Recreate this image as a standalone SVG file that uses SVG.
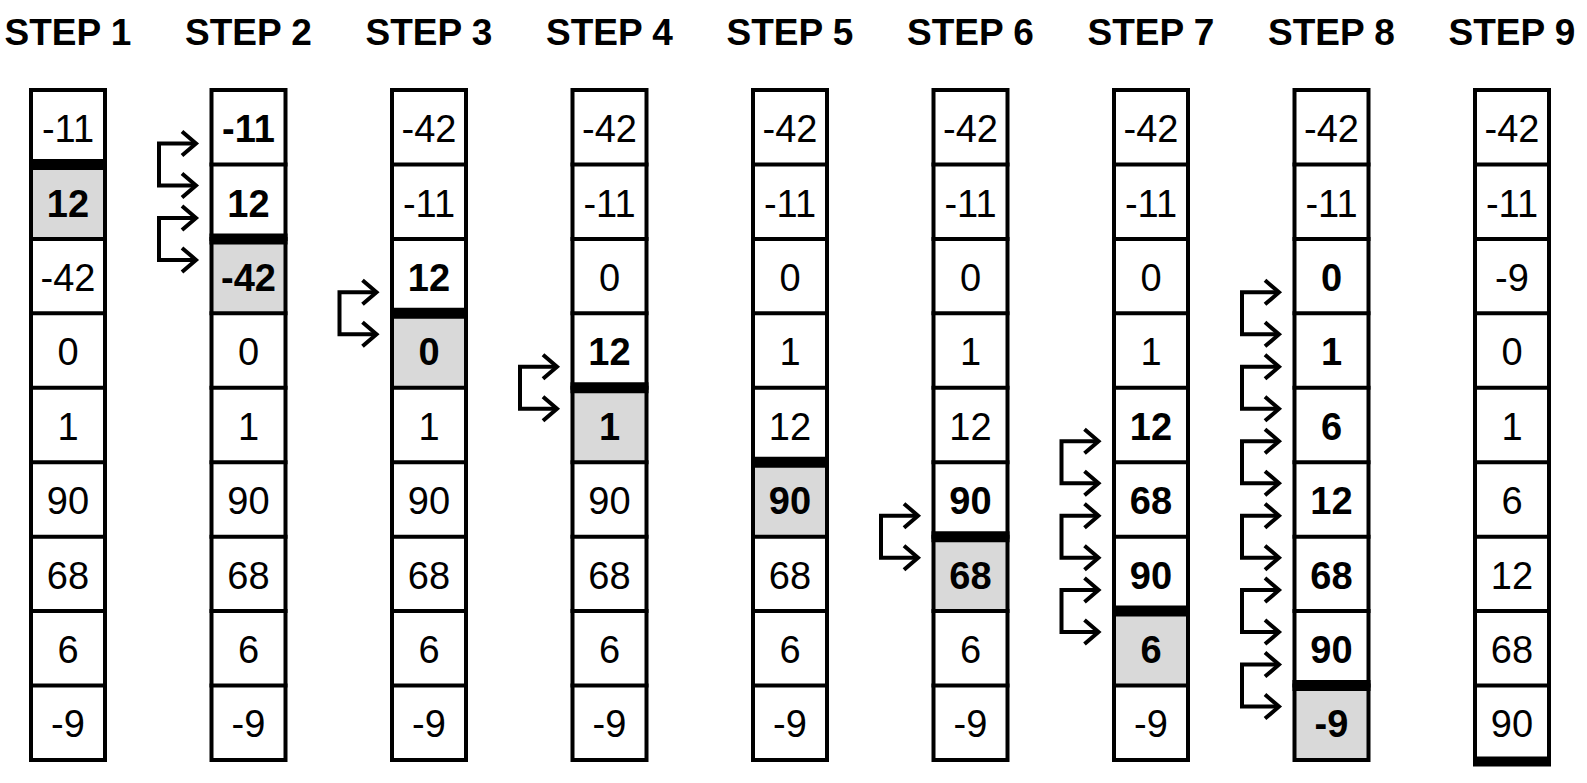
<svg xmlns="http://www.w3.org/2000/svg" width="1587" height="783" viewBox="0 0 1587 783">
<style>
.t{font-family:"Liberation Sans",Arial,sans-serif;font-weight:bold;font-size:37px;text-anchor:middle;fill:#000}
.n{font-family:"Liberation Sans",Arial,sans-serif;font-size:38px;text-anchor:middle;fill:#000}
.b{font-weight:bold}
.box{fill:none;stroke:#000;stroke-width:4}
.g{fill:#d9d9d9;stroke:none}
.ln{stroke:#000;stroke-width:4}
.bar{stroke:#000;stroke-width:11}
.ar{fill:none;stroke:#000;stroke-width:4;marker-start:url(#ah);marker-end:url(#ah)}
</style>
<defs>
<marker id="ah" markerUnits="userSpaceOnUse" orient="auto-start-reverse" markerWidth="40" markerHeight="40" viewBox="-20 -20 40 40" refX="0" refY="0" overflow="visible">
<path d="M-14,-12 L0,0 L-14,12" fill="none" stroke="#000" stroke-width="4"/>
</marker>
<g id="grid">
<line class="ln" x1="0" y1="164.4" x2="78" y2="164.4"/>
<line class="ln" x1="0" y1="238.9" x2="78" y2="238.9"/>
<line class="ln" x1="0" y1="313.3" x2="78" y2="313.3"/>
<line class="ln" x1="0" y1="387.8" x2="78" y2="387.8"/>
<line class="ln" x1="0" y1="462.2" x2="78" y2="462.2"/>
<line class="ln" x1="0" y1="536.7" x2="78" y2="536.7"/>
<line class="ln" x1="0" y1="611.1" x2="78" y2="611.1"/>
<line class="ln" x1="0" y1="685.6" x2="78" y2="685.6"/>
<rect class="box" x="2" y="90" width="74" height="670"/>
</g>
</defs>

<g id="step1" transform="translate(29,0)">
<text class="t" x="39" y="45">STEP 1</text>
<rect class="g" x="2" y="164.4" width="74" height="74.5"/>
<use href="#grid"/>
<line class="bar" x1="0" y1="164.4" x2="78" y2="164.4"/>
<text class="n" x="39" y="142.2">-11</text>
<text class="n b" x="39" y="216.6">12</text>
<text class="n" x="39" y="291">-42</text>
<text class="n" x="39" y="365.4">0</text>
<text class="n" x="39" y="439.8">1</text>
<text class="n" x="39" y="514.2">90</text>
<text class="n" x="39" y="588.6">68</text>
<text class="n" x="39" y="663">6</text>
<text class="n" x="39" y="737.4">-9</text>
</g>

<g id="step2" transform="translate(209.5,0)">
<text class="t" x="39" y="45">STEP 2</text>
<rect class="g" x="2" y="238.9" width="74" height="74.4"/>
<use href="#grid"/>
<line class="bar" x1="0" y1="238.9" x2="78" y2="238.9"/>
<text class="n b" x="39" y="142.2">-11</text>
<text class="n b" x="39" y="216.6">12</text>
<text class="n b" x="39" y="291">-42</text>
<text class="n" x="39" y="365.4">0</text>
<text class="n" x="39" y="439.8">1</text>
<text class="n" x="39" y="514.2">90</text>
<text class="n" x="39" y="588.6">68</text>
<text class="n" x="39" y="663">6</text>
<text class="n" x="39" y="737.4">-9</text>
</g>

<g id="step3" transform="translate(390,0)">
<text class="t" x="39" y="45">STEP 3</text>
<rect class="g" x="2" y="313.3" width="74" height="74.5"/>
<use href="#grid"/>
<line class="bar" x1="0" y1="313.3" x2="78" y2="313.3"/>
<text class="n" x="39" y="142.2">-42</text>
<text class="n" x="39" y="216.6">-11</text>
<text class="n b" x="39" y="291">12</text>
<text class="n b" x="39" y="365.4">0</text>
<text class="n" x="39" y="439.8">1</text>
<text class="n" x="39" y="514.2">90</text>
<text class="n" x="39" y="588.6">68</text>
<text class="n" x="39" y="663">6</text>
<text class="n" x="39" y="737.4">-9</text>
</g>

<g id="step4" transform="translate(570.5,0)">
<text class="t" x="39" y="45">STEP 4</text>
<rect class="g" x="2" y="387.8" width="74" height="74.4"/>
<use href="#grid"/>
<line class="bar" x1="0" y1="387.8" x2="78" y2="387.8"/>
<text class="n" x="39" y="142.2">-42</text>
<text class="n" x="39" y="216.6">-11</text>
<text class="n" x="39" y="291">0</text>
<text class="n b" x="39" y="365.4">12</text>
<text class="n b" x="39" y="439.8">1</text>
<text class="n" x="39" y="514.2">90</text>
<text class="n" x="39" y="588.6">68</text>
<text class="n" x="39" y="663">6</text>
<text class="n" x="39" y="737.4">-9</text>
</g>

<g id="step5" transform="translate(751,0)">
<text class="t" x="39" y="45">STEP 5</text>
<rect class="g" x="2" y="462.2" width="74" height="74.5"/>
<use href="#grid"/>
<line class="bar" x1="0" y1="462.2" x2="78" y2="462.2"/>
<text class="n" x="39" y="142.2">-42</text>
<text class="n" x="39" y="216.6">-11</text>
<text class="n" x="39" y="291">0</text>
<text class="n" x="39" y="365.4">1</text>
<text class="n" x="39" y="439.8">12</text>
<text class="n b" x="39" y="514.2">90</text>
<text class="n" x="39" y="588.6">68</text>
<text class="n" x="39" y="663">6</text>
<text class="n" x="39" y="737.4">-9</text>
</g>

<g id="step6" transform="translate(931.5,0)">
<text class="t" x="39" y="45">STEP 6</text>
<rect class="g" x="2" y="536.7" width="74" height="74.4"/>
<use href="#grid"/>
<line class="bar" x1="0" y1="536.7" x2="78" y2="536.7"/>
<text class="n" x="39" y="142.2">-42</text>
<text class="n" x="39" y="216.6">-11</text>
<text class="n" x="39" y="291">0</text>
<text class="n" x="39" y="365.4">1</text>
<text class="n" x="39" y="439.8">12</text>
<text class="n b" x="39" y="514.2">90</text>
<text class="n b" x="39" y="588.6">68</text>
<text class="n" x="39" y="663">6</text>
<text class="n" x="39" y="737.4">-9</text>
</g>

<g id="step7" transform="translate(1112,0)">
<text class="t" x="39" y="45">STEP 7</text>
<rect class="g" x="2" y="611.1" width="74" height="74.5"/>
<use href="#grid"/>
<line class="bar" x1="0" y1="611.1" x2="78" y2="611.1"/>
<text class="n" x="39" y="142.2">-42</text>
<text class="n" x="39" y="216.6">-11</text>
<text class="n" x="39" y="291">0</text>
<text class="n" x="39" y="365.4">1</text>
<text class="n b" x="39" y="439.8">12</text>
<text class="n b" x="39" y="514.2">68</text>
<text class="n b" x="39" y="588.6">90</text>
<text class="n b" x="39" y="663">6</text>
<text class="n" x="39" y="737.4">-9</text>
</g>

<g id="step8" transform="translate(1292.5,0)">
<text class="t" x="39" y="45">STEP 8</text>
<rect class="g" x="2" y="685.6" width="74" height="74.4"/>
<use href="#grid"/>
<line class="bar" x1="0" y1="685.6" x2="78" y2="685.6"/>
<text class="n" x="39" y="142.2">-42</text>
<text class="n" x="39" y="216.6">-11</text>
<text class="n b" x="39" y="291">0</text>
<text class="n b" x="39" y="365.4">1</text>
<text class="n b" x="39" y="439.8">6</text>
<text class="n b" x="39" y="514.2">12</text>
<text class="n b" x="39" y="588.6">68</text>
<text class="n b" x="39" y="663">90</text>
<text class="n b" x="39" y="737.4">-9</text>
</g>

<g id="step9" transform="translate(1473,0)">
<text class="t" x="39" y="45">STEP 9</text>
<use href="#grid"/>
<line class="bar" x1="0" y1="761.5" x2="78" y2="761.5" style="stroke-width:10"/>
<text class="n" x="39" y="142.2">-42</text>
<text class="n" x="39" y="216.6">-11</text>
<text class="n" x="39" y="291">-9</text>
<text class="n" x="39" y="365.4">0</text>
<text class="n" x="39" y="439.8">1</text>
<text class="n" x="39" y="514.2">6</text>
<text class="n" x="39" y="588.6">12</text>
<text class="n" x="39" y="663">68</text>
<text class="n" x="39" y="737.4">90</text>
</g>

<g id="connectors">
<path class="ar" d="M196,143.4 H159 V185.4 H196"/>
<path class="ar" d="M196,217.9 H159 V259.9 H196"/>
<path class="ar" d="M376.5,292.3 H339.5 V334.3 H376.5"/>
<path class="ar" d="M557,366.8 H520 V408.8 H557"/>
<path class="ar" d="M918,515.7 H881 V557.7 H918"/>
<path class="ar" d="M1098.5,441.2 H1061.5 V483.2 H1098.5"/>
<path class="ar" d="M1098.5,515.7 H1061.5 V557.7 H1098.5"/>
<path class="ar" d="M1098.5,590.1 H1061.5 V632.1 H1098.5"/>
<path class="ar" d="M1279,292.3 H1242 V334.3 H1279"/>
<path class="ar" d="M1279,366.8 H1242 V408.8 H1279"/>
<path class="ar" d="M1279,441.2 H1242 V483.2 H1279"/>
<path class="ar" d="M1279,515.7 H1242 V557.7 H1279"/>
<path class="ar" d="M1279,590.1 H1242 V632.1 H1279"/>
<path class="ar" d="M1279,664.6 H1242 V706.6 H1279"/>
</g>
</svg>
